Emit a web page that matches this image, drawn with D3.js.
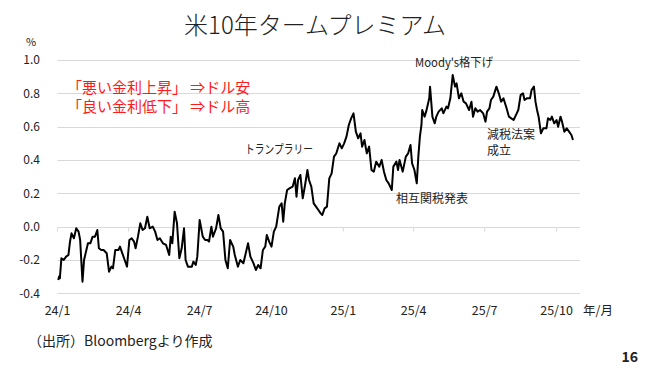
<!DOCTYPE html>
<html>
<head>
<meta charset="utf-8">
<script src="https://cdn.jsdelivr.net/npm/d3@7"></script>
<style>
  body { margin: 0; background: #fff; }
  text { font-family: "Noto Sans CJK JP", "Noto Sans", sans-serif; }
</style>
</head>
<body>
<div id="chart"></div>
<script>
var width = 652, height = 370;

// 日付（おおよそ3日おき）
var dates = [
  "2024-01-02","2024-01-03","2024-01-04","2024-01-06","2024-01-09","2024-01-12","2024-01-15","2024-01-17","2024-01-19","2024-01-22",
  "2024-01-25","2024-01-28","2024-01-30","2024-02-02","2024-02-04","2024-02-06","2024-02-09","2024-02-12","2024-02-15","2024-02-18",
  "2024-02-21","2024-02-23","2024-02-26","2024-02-29","2024-03-04","2024-03-07","2024-03-10","2024-03-12","2024-03-15","2024-03-19",
  "2024-03-21","2024-03-24","2024-03-27","2024-03-30","2024-04-02","2024-04-05","2024-04-08","2024-04-10","2024-04-13","2024-04-16",
  "2024-04-19","2024-04-22","2024-04-25","2024-04-28","2024-05-02","2024-05-05","2024-05-08","2024-05-11","2024-05-15","2024-05-19",
  "2024-05-23","2024-05-25","2024-05-27","2024-05-30","2024-06-02","2024-06-05","2024-06-08","2024-06-11","2024-06-13","2024-06-16",
  "2024-06-21","2024-06-23","2024-06-26","2024-06-28","2024-07-01","2024-07-05","2024-07-08","2024-07-11","2024-07-13","2024-07-16",
  "2024-07-18","2024-07-22","2024-07-25","2024-07-28","2024-07-31","2024-08-03","2024-08-06","2024-08-09","2024-08-13","2024-08-15",
  "2024-08-19","2024-08-22","2024-08-26","2024-08-29","2024-09-01","2024-09-04","2024-09-08","2024-09-11","2024-09-14","2024-09-17",
  "2024-09-20","2024-09-23","2024-09-25","2024-09-28","2024-10-01","2024-10-04","2024-10-07","2024-10-11","2024-10-14","2024-10-16",
  "2024-10-18","2024-10-21","2024-10-24","2024-10-28","2024-10-31","2024-11-02","2024-11-04","2024-11-07","2024-11-10","2024-11-13",
  "2024-11-16","2024-11-18","2024-11-21","2024-11-24","2024-11-27","2024-11-30","2024-12-03","2024-12-05","2024-12-08","2024-12-11",
  "2024-12-14","2024-12-17","2024-12-20","2024-12-23","2024-12-27","2024-12-30","2025-01-02","2025-01-05","2025-01-08","2025-01-11",
  "2025-01-14","2025-01-17","2025-01-20","2025-01-23","2025-01-25","2025-01-28","2025-01-31","2025-02-03","2025-02-06","2025-02-09",
  "2025-02-12","2025-02-16","2025-02-19","2025-02-22","2025-02-25","2025-02-28","2025-03-04","2025-03-06","2025-03-10","2025-03-12",
  "2025-03-14","2025-03-18","2025-03-22","2025-03-25","2025-03-28","2025-03-30","2025-04-02","2025-04-05","2025-04-07","2025-04-09",
  "2025-04-11","2025-04-12","2025-04-15","2025-04-17","2025-04-21","2025-04-22","2025-04-25","2025-04-28","2025-04-30","2025-05-03",
  "2025-05-07","2025-05-09","2025-05-13","2025-05-15","2025-05-18","2025-05-21","2025-05-24","2025-05-26","2025-05-29","2025-06-01",
  "2025-06-04","2025-06-07","2025-06-11","2025-06-14","2025-06-16","2025-06-19","2025-06-22","2025-06-25","2025-06-29","2025-07-02",
  "2025-07-04","2025-07-07","2025-07-09","2025-07-12","2025-07-16","2025-07-19","2025-07-22","2025-07-25","2025-07-29","2025-08-01",
  "2025-08-04","2025-08-07","2025-08-11","2025-08-13","2025-08-16","2025-08-19","2025-08-21","2025-08-24","2025-08-28","2025-08-30",
  "2025-09-02","2025-09-04","2025-09-06","2025-09-08","2025-09-11","2025-09-14","2025-09-18","2025-09-20","2025-09-23","2025-09-25",
  "2025-09-28","2025-10-01","2025-10-03","2025-10-06","2025-10-08","2025-10-11","2025-10-14","2025-10-17","2025-10-20","2025-10-22"
];

// タームプレミアム（%）
var values = [
  -0.32,-0.30,-0.31,-0.19,-0.20,-0.18,-0.17,-0.09,-0.04,-0.07,
  -0.01,-0.03,-0.08,-0.33,-0.20,-0.16,-0.10,-0.10,-0.06,-0.06,
  -0.02,-0.13,-0.14,-0.14,-0.16,-0.27,-0.24,-0.25,-0.14,-0.14,
  -0.12,-0.16,-0.20,-0.24,-0.08,-0.07,-0.09,-0.13,-0.06,0.02,
  -0.02,-0.01,0.06,-0.01,0.00,-0.03,-0.08,-0.07,-0.10,-0.11,
  -0.17,-0.06,-0.10,0.09,0.02,-0.19,-0.13,-0.01,-0.20,-0.24,
  -0.24,-0.21,-0.23,-0.18,0.04,-0.06,-0.08,-0.08,-0.09,0.00,
  -0.06,-0.01,0.07,-0.01,-0.03,-0.20,-0.25,-0.08,-0.12,-0.17,
  -0.24,-0.20,-0.22,-0.16,-0.10,-0.18,-0.22,-0.26,-0.23,-0.25,
  -0.14,-0.12,-0.05,-0.09,-0.12,-0.03,0.00,0.12,0.14,0.03,
  0.14,0.22,0.23,0.24,0.29,0.18,0.28,0.31,0.17,0.25,
  0.34,0.28,0.24,0.14,0.12,0.10,0.08,0.07,0.11,0.12,
  0.29,0.32,0.42,0.44,0.50,0.47,0.50,0.54,0.61,0.65,
  0.68,0.57,0.53,0.56,0.48,0.52,0.44,0.48,0.34,0.33,
  0.39,0.36,0.40,0.33,0.28,0.26,0.22,0.36,0.39,0.34,
  0.40,0.33,0.42,0.44,0.49,0.38,0.34,0.26,0.42,0.54,
  0.61,0.70,0.66,0.69,0.77,0.84,0.66,0.62,0.66,0.69,
  0.71,0.68,0.72,0.71,0.77,0.91,0.84,0.86,0.77,0.80,
  0.75,0.74,0.70,0.75,0.66,0.71,0.69,0.70,0.68,0.63,
  0.69,0.71,0.76,0.78,0.84,0.80,0.75,0.77,0.71,0.66,
  0.65,0.64,0.68,0.70,0.79,0.80,0.76,0.77,0.77,0.82,
  0.84,0.75,0.70,0.66,0.56,0.59,0.59,0.65,0.64,0.66,
  0.62,0.64,0.60,0.66,0.63,0.57,0.59,0.57,0.55,0.52
];

// 軸の目盛り
var yTicks = [-0.4, -0.2, 0.0, 0.2, 0.4, 0.6, 0.8, 1.0];
var xStart = "2024-01-01", xEnd = "2025-10-31";

var parse = d3.timeParse("%Y-%m-%d");
var data = dates.map(function(d, i){ return [parse(d), values[i]]; });

var svg = d3.select("#chart").append("svg")
            .attr("width", width).attr("height", height)
            .style("background", "#fff");

var xScale = d3.scaleTime()
                .domain([parse(xStart), parse(xEnd)])
                .range([57.5, 580]);
var yScale = d3.scaleLinear()
                .domain([-0.4, 1.0])
                .range([293.3, 60]);

// タイトル
svg.append("text")
    .attr("x", 315).attr("y", 34)
    .attr("text-anchor", "middle")
    .style("font-size", "24px").style("font-weight", 300)
    .style("fill", "#222")
    .text("米10年タームプレミアム");

// グリッド線
svg.append("g").selectAll("line").data(yTicks)
    .enter().append("line")
    .attr("x1", xScale.range()[0]).attr("x2", xScale.range()[1])
    .attr("y1", function(d){ return Math.round(yScale(d)) + 0.5; })
    .attr("y2", function(d){ return Math.round(yScale(d)) + 0.5; })
    .style("stroke", "#d9d9d9").style("stroke-width", 1);

// y軸ラベル
svg.append("g").selectAll("text").data(yTicks)
    .enter().append("text")
    .attr("x", 40)
    .attr("y", function(d){ return yScale(d); })
    .attr("dy", "0.35em")
    .attr("text-anchor", "end")
    .style("font-size", "12px").style("fill", "#222")
    .text(function(d){ return d3.format(".1f")(d).replace("−", "-"); });

svg.append("text")
    .attr("x", 31).attr("y", 46)
    .attr("text-anchor", "middle")
    .style("font-size", "11px").style("fill", "#222")
    .text("%");

// x軸（0.0の線に目盛り、ラベルは下）
var xTicks = d3.timeMonth.every(3).range(parse(xStart), d3.timeDay.offset(parse("2025-10-01"), 1));
var y0 = Math.round(yScale(0)) + 0.5;
svg.append("g").selectAll("line").data(xTicks)
    .enter().append("line")
    .attr("x1", function(d){ return xScale(d); })
    .attr("x2", function(d){ return xScale(d); })
    .attr("y1", y0).attr("y2", y0 + 4)
    .style("stroke", "#d9d9d9").style("stroke-width", 1);

svg.append("g").selectAll("text").data(xTicks)
    .enter().append("text")
    .attr("x", function(d){ return xScale(d); })
    .attr("y", 315)
    .attr("text-anchor", "middle")
    .style("font-size", "12.5px").style("fill", "#222")
    .text(function(d){ return d3.timeFormat("%y")(d) + "/" + (d.getMonth() + 1); });

svg.append("text")
    .attr("x", 583).attr("y", 315)
    .style("font-size", "12.5px").style("fill", "#222")
    .text("年/月");

// 折れ線
var line = d3.line()
    .x(function(d){ return xScale(d[0]); })
    .y(function(d){ return yScale(d[1]); });

svg.append("path")
    .datum(data)
    .attr("d", line)
    .style("fill", "none")
    .style("stroke", "#000")
    .style("stroke-width", 2)
    .style("stroke-linejoin", "round");

// 赤い注記
svg.append("text")
    .attr("x", 67).attr("y", 93)
    .style("font-size", "15px").style("fill", "#ff1a1a")
    .text("「悪い金利上昇」 ⇒ドル安");
svg.append("text")
    .attr("x", 67).attr("y", 112)
    .style("font-size", "15px").style("fill", "#ff1a1a")
    .text("「良い金利低下」 ⇒ドル高");

// イベント注記
function note(x, y, s, len){
    var t = svg.append("text")
        .attr("x", x).attr("y", y)
        .style("font-size", "12px").style("fill", "#222")
        .text(s);
    if (len) t.attr("textLength", len).attr("lengthAdjust", "spacingAndGlyphs");
}
note(245, 154, "トランプラリー", 68);
note(396, 203, "相互関税発表");
note(415, 67, "Moody's格下げ", 78);
note(487, 139, "減税法案");
note(487, 155, "成立");

// 出所
svg.append("text")
    .attr("x", 28).attr("y", 346)
    .style("font-size", "14px").style("fill", "#222")
    .text("（出所）Bloombergより作成");

svg.append("text")
    .attr("x", 638).attr("y", 362)
    .attr("text-anchor", "end")
    .style("font-size", "14px").style("font-weight", "bold").style("fill", "#222")
    .text("16");
</script>
</body>
</html>
